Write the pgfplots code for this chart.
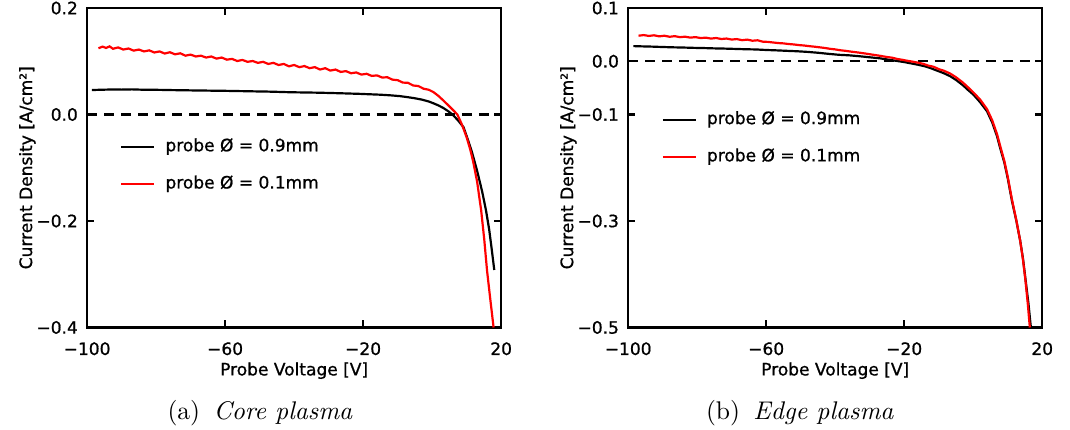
\documentclass[border=0pt]{standalone}
\usepackage{fontspec}
\usepackage{pgfplots}
\usepackage{pgfplotstable}
\pgfplotsset{compat=1.18}
\newfontfamily\idl[FakeBold=0.9]{DejaVu Sans}
\newcommand\idlfont{\idl\fontsize{7}{8}\selectfont}

\pgfplotstableread{
x y
-98.6 0.0460
-96 0.0465
-93 0.0470
-90 0.0468
-87 0.0472
-84 0.0466
-81 0.0465
-78 0.0462
-75 0.0458
-72 0.0456
-69 0.0452
-66 0.0450
-63 0.0447
-60 0.0445
-57 0.0441
-54 0.0438
-51 0.0434
-48 0.0431
-45 0.0426
-42 0.0420
-39 0.0416
-36 0.0413
-33 0.0410
-30 0.0405
-27 0.0400
-24 0.0394
-21 0.0388
-18 0.0380
-15 0.0372
-12 0.0360
-9.3 0.0345
-7 0.0325
-5 0.0305
-3 0.0280
-1 0.0245
0.4 0.0210
2 0.0165
3.3 0.0120
4.7 0.0060
5.9 0.0
7.5 -0.0110
9.1 -0.0240
10.5 -0.0500
11.5 -0.0700
13.0 -0.1050
14.5 -0.1450
15.6 -0.1800
16.5 -0.2150
17.2 -0.2500
18.0 -0.2920
}\coreblack

\pgfplotstableread{
x y
-96.7 0.1245
-95.5 0.1275
-94.5 0.1250
-93.5 0.1280
-92.5 0.1235
-91 0.1260
-89.5 0.1220
-88 0.1240
-86.5 0.1200
-85 0.1220
-83.5 0.1185
-82 0.1205
-80.5 0.1165
-79 0.1185
-77.5 0.1145
-76 0.1170
-74.5 0.1130
-73 0.1150
-71.5 0.1105
-70 0.1125
-68.5 0.1090
-67 0.1105
-65.5 0.1070
-64 0.1090
-62.5 0.1050
-61 0.1070
-59.5 0.1030
-58 0.1045
-56.5 0.1005
-55 0.1025
-53.5 0.0990
-52 0.1005
-50.5 0.0970
-49 0.0990
-47.5 0.0950
-46 0.0970
-44.5 0.0930
-43 0.0950
-41.5 0.0905
-40 0.0930
-38.5 0.0890
-37 0.0910
-35.5 0.0870
-34 0.0890
-32.5 0.0845
-31 0.0870
-29.5 0.0825
-28 0.0845
-26.5 0.0800
-25 0.0815
-23.5 0.0775
-22 0.0790
-20.5 0.0750
-19 0.0765
-17.5 0.0725
-16 0.0735
-14.5 0.0695
-13 0.0700
-11.5 0.0655
-10 0.0645
-8.5 0.0600
-7 0.0595
-5.5 0.0545
-4 0.0535
-2.5 0.0485
-1 0.0465
0.4 0.0420
1.8 0.0350
3.3 0.0260
4.8 0.0165
6.2 0.0075
7.3 0.0
8.7 -0.020
10.0 -0.043
11.0 -0.065
11.8 -0.086
13.0 -0.125
14.2 -0.180
15.1 -0.235
15.9 -0.293
16.9 -0.350
17.8 -0.400
}\corered

\pgfplotstableread{
x y
-98.5 0.0285
-96 0.0280
-93 0.0275
-90 0.0268
-87 0.0262
-84 0.0258
-81 0.0252
-78 0.0248
-75 0.0242
-72 0.0238
-69 0.0232
-66 0.0226
-63 0.0222
-60 0.0212
-57 0.0205
-54 0.0196
-51 0.0188
-48 0.0176
-45 0.0160
-42 0.0140
-39 0.0122
-36 0.0112
-33 0.0095
-30 0.0075
-27 0.0055
-24 0.0025
-22 0.0005
-20 -0.0015
-18 -0.0040
-16 -0.0065
-14 -0.0095
-12.5 -0.0125
-10.5 -0.0175
-8.5 -0.0225
-6.7 -0.0280
-5 -0.0350
-3 -0.0450
-1.5 -0.0540
0.1 -0.0630
2 -0.0770
4 -0.0940
5.5 -0.1150
6.9 -0.1410
7.8 -0.1630
9 -0.1900
10 -0.2200
11.2 -0.2620
12.5 -0.3000
13.6 -0.3370
14.4 -0.3700
15.1 -0.4070
16 -0.4550
16.7 -0.5000
}\edgeblack

\pgfplotstableread{
x y
-97 0.0480
-95.5 0.0492
-94 0.0476
-92.5 0.0488
-91 0.0468
-89.5 0.0480
-88 0.0460
-86.5 0.0472
-85 0.0453
-83.5 0.0462
-82 0.0444
-80.5 0.0454
-79 0.0436
-77.5 0.0444
-76 0.0426
-74.5 0.0437
-73 0.0418
-71.5 0.0427
-70 0.0408
-68.5 0.0417
-67 0.0396
-65.5 0.0407
-64 0.0386
-62.5 0.0394
-61 0.0368
-59.5 0.0364
-58 0.0353
-56.5 0.0342
-55 0.0336
-53.5 0.0324
-52 0.0316
-50.5 0.0304
-49 0.0296
-47.5 0.0284
-46 0.0274
-44.5 0.0262
-43 0.0250
-41.5 0.0234
-40 0.0223
-38.5 0.0207
-37 0.0196
-35.5 0.0182
-34 0.0170
-32.5 0.0157
-31 0.0143
-29.5 0.0127
-28 0.0113
-26.5 0.0097
-25 0.0080
-23.5 0.0067
-22 0.0043
-20.5 0.0027
-19 0.0008
-17.5 -0.0008
-16 -0.0027
-14.5 -0.0048
-13 -0.0082
-11.5 -0.0103
-10 -0.0147
-8.5 -0.0178
-6.7 -0.0230
-5 -0.0300
-3 -0.0400
-1.5 -0.0490
0.1 -0.0590
2 -0.0720
4 -0.0900
5.5 -0.1110
6.9 -0.1370
7.8 -0.1590
9 -0.1870
10 -0.2170
11.2 -0.2590
12.5 -0.2990
13.6 -0.3370
14.4 -0.3720
15.1 -0.4100
15.8 -0.4550
16.4 -0.5000
}\edgered

\pgfplotsset{
  idlaxis/.style={
    scale only axis, width=170.2pt, height=131.3pt,
    xmin=-100, xmax=20,
    xtick={-100,-60,-20,20},
    xticklabels={−100,−60,−20,20},
    axis line style={line width=1pt},
    every tick/.style={line width=1pt, black},
    major tick length=3pt,
    tick align=inside,
    minor tick num=0,
    no markers,
    ticklabel style={font=\idlfont},
    xticklabel style={anchor=north, inner sep=0pt, yshift=-5.9pt},
    yticklabel style={anchor=east, inner sep=0pt, xshift=-3.6pt},
    label style={font=\idlfont},
    xlabel={Probe Voltage [V]},
    ylabel={Current Density [A/cm²]},
    xlabel style={at={(axis description cs:0.5,0)}, anchor=base, yshift=-19.7pt},
    ylabel style={at={(axis description cs:-0.133,0.5)}, anchor=base},
    legend cell align=left,
    legend style={draw=none, fill=none, inner sep=0pt, outer sep=0pt,
      row sep=8.4pt, column sep=4.1pt, font=\idlfont,
      nodes={inner sep=0pt, text height=5.3pt, text depth=1.6pt}},
    legend image code/.code={\draw[#1] (0pt,0pt) -- (13.6pt,0pt);},
  }
}

\begin{document}
\begin{tikzpicture}
\path[use as bounding box] (-35.8pt,-42.1pt) rectangle (404.0pt,134.6pt);
\begin{axis}[idlaxis, name=core, at={(0pt,0pt)}, anchor=south west,
  ymin=-0.4, ymax=0.2,
  ytick={-0.4,-0.2,0,0.2},
  yticklabels={−0.4,−0.2,0.0,0.2},
  legend style={at={(axis description cs:0.08,0.592)}, anchor=north west}]
\addplot[black, line width=0.95pt, dash pattern=on 4.1pt off 2.9pt, forget plot] coordinates {(-100,0) (20,0)};
\addplot[black, line width=0.9pt] table {\coreblack};
\addlegendentry{probe Ø = 0.9mm}
\addplot[red, line width=0.9pt] table {\corered};
\addlegendentry{probe Ø = 0.1mm}
\end{axis}
\begin{axis}[idlaxis, name=edge, at={(222.4pt,0pt)}, anchor=south west,
  ymin=-0.5, ymax=0.1,
  ytick={-0.5,-0.3,-0.1,0,0.1},
  yticklabels={−0.5,−0.3,−0.1,0.0,0.1},
  legend style={at={(axis description cs:0.081,0.677)}, anchor=north west}]
\addplot[black, line width=0.95pt, dash pattern=on 4.1pt off 2.9pt, forget plot] coordinates {(-100,0) (20,0)};
\addplot[black, line width=0.9pt] table {\edgeblack};
\addlegendentry{probe Ø = 0.9mm}
\addplot[red, line width=0.9pt] table {\edgered};
\addlegendentry{probe Ø = 0.1mm}
\end{axis}
\node[font=\fontsize{10.5}{12}\selectfont, anchor=base] at ([xshift=71.1pt, yshift=-38.0pt]core.south west) {(a)\hspace{5.5pt}\textit{Core plasma}};
\node[font=\fontsize{10.5}{12}\selectfont, anchor=base] at ([xshift=70.6pt, yshift=-38.0pt]edge.south west) {(b)\hspace{5.5pt}\textit{Edge plasma}};
\end{tikzpicture}
\end{document}
